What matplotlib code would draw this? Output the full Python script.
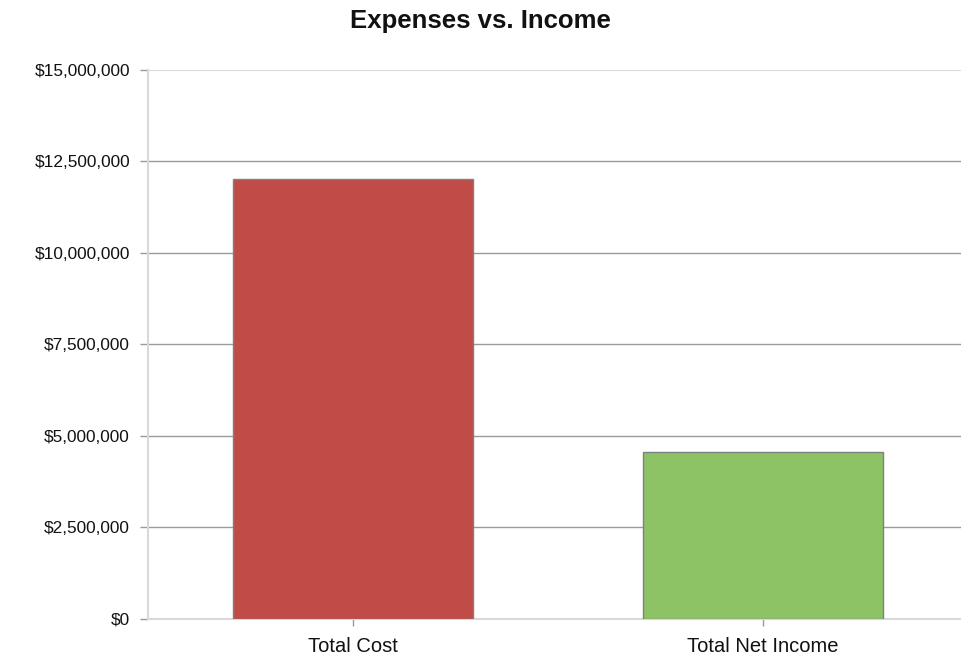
import matplotlib
matplotlib.use("Agg")
import matplotlib.pyplot as plt
from matplotlib.ticker import FuncFormatter

categories = ["Total Cost", "Total Net Income"]
values = [12020000, 4560000]
bar_colors = ["#C04B47", "#8DC365"]
y_ticks = [0, 2500000, 5000000, 7500000, 10000000, 12500000, 15000000]

plt.rcParams["font.family"] = ["Liberation Sans", "DejaVu Sans"]

fig = plt.figure(figsize=(9.61, 6.58), dpi=100)
ax = fig.add_axes([148 / 961, 1 - 618.5 / 658, (961 - 148) / 961, (618.5 - 70) / 658])

x = range(len(categories))
ax.bar(x, values, width=0.585, color=bar_colors, edgecolor="#7f7f7f", linewidth=1, zorder=3)

ax.set_xlim(-0.5, 1.483)
ax.set_ylim(0, 15000000)
ax.set_yticks(y_ticks)
ax.yaxis.set_major_formatter(FuncFormatter(lambda v, p: "${:,.0f}".format(v)))
ax.set_xticks(list(x))
ax.set_xticklabels(categories)

# horizontal grid, lighter at the top edge
for t in y_ticks[1:-1]:
    ax.axhline(t, color="#9a9a9a", linewidth=1, zorder=1)
ax.axhline(y_ticks[-1], color="#d9d9d9", linewidth=1.5, zorder=1)

for side in ["top", "right"]:
    ax.spines[side].set_visible(False)
ax.spines["left"].set_color("#d9d9d9")
ax.spines["left"].set_linewidth(1.5)
ax.spines["bottom"].set_color("#d9d9d9")
ax.spines["bottom"].set_linewidth(1.5)

ax.tick_params(axis="y", length=6, width=1, color="#9a9a9a", labelsize=12.4, pad=7, labelcolor="#111111")
ax.tick_params(axis="x", length=5, width=1, color="#9a9a9a", labelsize=14.5, pad=8.5, labelcolor="#111111")

fig.text(0.5, 1 - 21 / 658, "Expenses vs. Income", ha="center", va="center",
         fontsize=18.5, fontweight="bold", color="#111111")

fig.savefig("out.png", dpi=100)
